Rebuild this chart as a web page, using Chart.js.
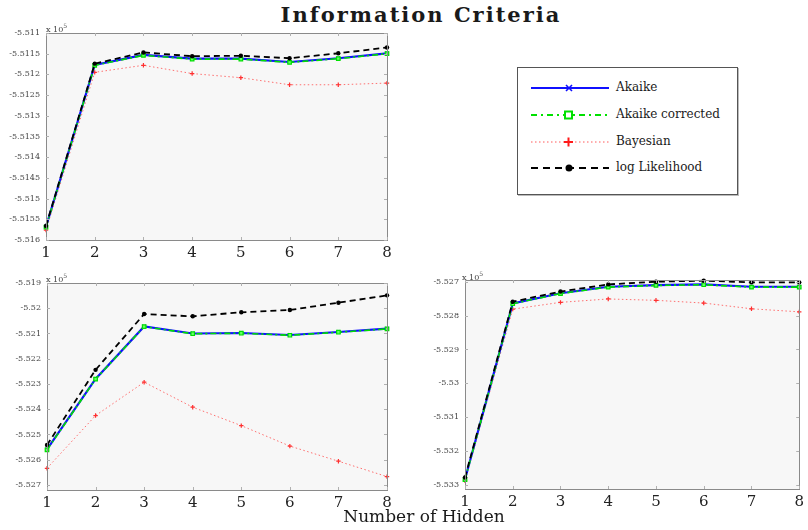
<!DOCTYPE html>
<html>
<head>
<meta charset="utf-8">
<script src="https://cdn.jsdelivr.net/npm/chart.js@4/dist/chart.umd.min.js"></script>
<style>
  html, body { margin: 0; padding: 0; background: #fff; }
  body { width: 808px; height: 530px; position: relative; overflow: hidden; font-family: "DejaVu Serif", "Liberation Serif", serif; color: #111; }
  .plot { position: absolute; }
  #title { position: absolute; left: 0; width: 842px; top: 2px; text-align: center; font-size: 21px; font-weight: bold; letter-spacing: 2px; color: #1a1a1a; }
  #xlabel { position: absolute; left: 0; width: 848px; top: 506px; text-align: center; font-size: 17px; color: #1a1a1a; }
  .exp { position: absolute; font-size: 8px; color: #444; font-family: "DejaVu Serif", serif; }
  .exp sup { font-size: 6px; vertical-align: 4px; }
  #legend { position: absolute; left: 517px; top: 67px; width: 219px; height: 126px; border: 1px solid #555; background: #fff; box-shadow: 1px 1px 0 #bbb; }
  .row { position: absolute; left: 0; height: 20px; width: 219px; }
  .row svg { position: absolute; left: 10px; top: 0; }
  .row span { position: absolute; left: 98px; top: 2px; font-size: 12px; white-space: nowrap; font-family: "DejaVu Serif", "Liberation Serif", serif; color: #1a1a1a; }
</style>
</head>
<body>
<div id="title">Information Criteria</div>

<canvas id="runA" class="plot" width="400" height="250" style="left:0;top:20px;width:400px;height:250px"></canvas>
<canvas id="runB" class="plot" width="400" height="255" style="left:0;top:270px;width:400px;height:255px"></canvas>
<canvas id="runC" class="plot" width="408" height="260" style="left:400px;top:265px;width:408px;height:260px"></canvas>

<div class="exp" style="left:46px;top:22px">x 10<sup>5</sup></div>
<div class="exp" style="left:46px;top:272px">x 10<sup>5</sup></div>
<div class="exp" style="left:462px;top:270px">x 10<sup>5</sup></div>

<div id="legend">
  <div class="row" style="top:10px">
    <svg width="84" height="20"><line x1="3" y1="10" x2="81" y2="10" stroke="#1010ff" stroke-width="2"/><path d="M38 7 L44 13 M44 7 L38 13" stroke="#1010ff" stroke-width="1.6"/></svg>
    <span>Akaike</span>
  </div>
  <div class="row" style="top:37px">
    <svg width="84" height="20"><line x1="3" y1="10" x2="81" y2="10" stroke="#00e000" stroke-width="2" stroke-dasharray="6,4,2,4"/><rect x="37" y="6.5" width="7" height="7" fill="#fff" stroke="#00e000" stroke-width="2"/></svg>
    <span>Akaike corrected</span>
  </div>
  <div class="row" style="top:64px">
    <svg width="84" height="20"><line x1="3" y1="10" x2="81" y2="10" stroke="#ff5a5a" stroke-width="1" stroke-dasharray="1.5,2.5"/><path d="M40.5 5.5 L40.5 14.5 M36 10 L45 10" stroke="#ff1a1a" stroke-width="2"/></svg>
    <span>Bayesian</span>
  </div>
  <div class="row" style="top:90px">
    <svg width="84" height="20"><line x1="3" y1="10" x2="81" y2="10" stroke="#000" stroke-width="2" stroke-dasharray="7,5"/><circle cx="41" cy="10" r="3.5" fill="#000"/></svg>
    <span>log Likelihood</span>
  </div>
</div>

<div id="xlabel">Number of Hidden</div>

<script>
// Number of hidden units on the horizontal axis
const hidden = ['1', '2', '3', '4', '5', '6', '7', '8'];

// Run A (values in units of 10^5)
const aicA  = [-5.51568, -5.51177, -5.51153, -5.51162, -5.51162, -5.51170, -5.51161, -5.51149];
const aiccA = [-5.51569, -5.51178, -5.51154, -5.51163, -5.51163, -5.51171, -5.51162, -5.51150];
const bicA  = [-5.51576, -5.51195, -5.51178, -5.51198, -5.51208, -5.51225, -5.51225, -5.51221];
const llA   = [-5.51566, -5.51174, -5.51147, -5.51156, -5.51155, -5.51161, -5.51149, -5.51135];
const ticksA = [-5.511, -5.5115, -5.512, -5.5125, -5.513, -5.5135, -5.514, -5.5145, -5.515, -5.5155, -5.516];
const rangeA = [-5.516, -5.511];

// Run B
const aicB  = [-5.52559, -5.52280, -5.52072, -5.52100, -5.52098, -5.52106, -5.52094, -5.52081];
const aiccB = [-5.52561, -5.52281, -5.52073, -5.52101, -5.52099, -5.52107, -5.52095, -5.52082];
const bicB  = [-5.52634, -5.52425, -5.52293, -5.52392, -5.52465, -5.52546, -5.52606, -5.52667];
const llB   = [-5.52542, -5.52244, -5.52023, -5.52032, -5.52016, -5.52007, -5.51978, -5.51949];
const ticksB = [-5.519, -5.52, -5.521, -5.522, -5.523, -5.524, -5.525, -5.526, -5.527];
const rangeB = [-5.5272, -5.519];

// Run C
const aicC  = [-5.53283, -5.52764, -5.52734, -5.52715, -5.52710, -5.52708, -5.52715, -5.52715];
const aiccC = [-5.53284, -5.52765, -5.52735, -5.52716, -5.52711, -5.52709, -5.52716, -5.52716];
const bicC  = [-5.53288, -5.52781, -5.52761, -5.52751, -5.52755, -5.52763, -5.52780, -5.52789];
const llC   = [-5.53278, -5.52759, -5.52729, -5.52708, -5.52700, -5.52697, -5.52702, -5.52702];
const ticksC = [-5.527, -5.528, -5.529, -5.53, -5.531, -5.532, -5.533];
const rangeC = [-5.53312, -5.52695];

const serif = '"DejaVu Serif", "Liberation Serif", serif';

// Light gray plot box with a frame and short inward tick marks
const boxPlugin = {
  id: 'box',
  beforeDraw(chart) {
    const { ctx, chartArea: a } = chart;
    ctx.save();
    ctx.fillStyle = '#f7f7f7';
    ctx.fillRect(a.left, a.top, a.right - a.left, a.bottom - a.top);
    ctx.restore();
  },
  afterDraw(chart) {
    const { ctx, chartArea: a, scales } = chart;
    ctx.save();
    ctx.strokeStyle = '#8a8a8a';
    ctx.lineWidth = 1;
    ctx.strokeRect(Math.round(a.left) + 0.5, Math.round(a.top) + 0.5,
                   Math.round(a.right - a.left), Math.round(a.bottom - a.top));
    ctx.strokeStyle = '#b0b0b0';
    ctx.beginPath();
    scales.x.ticks.forEach((t, i) => {
      const px = Math.round(scales.x.getPixelForTick(i)) + 0.5;
      ctx.moveTo(px, a.top); ctx.lineTo(px, a.top + 3);
      ctx.moveTo(px, a.bottom); ctx.lineTo(px, a.bottom - 3);
    });
    scales.y.ticks.forEach(t => {
      const py = Math.round(scales.y.getPixelForValue(t.value)) + 0.5;
      ctx.moveTo(a.left, py); ctx.lineTo(a.left + 3, py);
      ctx.moveTo(a.right, py); ctx.lineTo(a.right - 3, py);
    });
    ctx.stroke();
    ctx.restore();
  }
};

function makeChart(id, aic, aicc, bic, ll, ticks, range, lay) {
  return new Chart(document.getElementById(id), {
    type: 'line',
    data: {
      labels: hidden,
      datasets: [
        { label: 'Akaike', data: aic, order: 3, borderColor: '#1010ff', borderWidth: 2.2,
          pointStyle: 'crossRot', pointRadius: 2.5, pointBorderWidth: 1.2, pointBorderColor: '#1010ff',
          tension: 0, clip: false },
        { label: 'Akaike corrected', data: aicc, order: 2, borderColor: '#00e000', borderWidth: 1.6,
          borderDash: [6, 3, 2, 3], pointStyle: 'rect', pointRadius: 2.5, pointBorderWidth: 1.2,
          pointBorderColor: '#00e000', pointBackgroundColor: '#66ff66', tension: 0, clip: false },
        { label: 'Bayesian', data: bic, order: 4, borderColor: '#ff7070', borderWidth: 1,
          borderDash: [1.5, 2.5], pointStyle: 'cross', pointRadius: 2.2, pointBorderWidth: 1.2,
          pointBorderColor: '#ff3030', tension: 0, clip: false },
        { label: 'log Likelihood', data: ll, order: 1, borderColor: '#000', borderWidth: 1.8,
          borderDash: [6, 4], pointStyle: 'circle', pointRadius: 2.2, pointBorderWidth: 0,
          pointBackgroundColor: '#000', tension: 0, clip: false }
      ]
    },
    options: {
      responsive: false,
      animation: false,
      events: [],
      layout: { padding: { top: lay.top, right: lay.right, left: 0, bottom: 0 } },
      plugins: { legend: { display: false }, tooltip: { enabled: false } },
      scales: {
        x: {
          type: 'category', offset: false,
          grid: { display: false, drawTicks: false }, border: { display: false },
          afterFit: s => { s.height = lay.xh; },
          ticks: { autoSkip: false, maxRotation: 0, padding: 4, color: '#222',
                   font: { family: serif, size: 15 } }
        },
        y: {
          type: 'linear', min: range[0], max: range[1],
          grid: { display: false, drawTicks: false }, border: { display: false },
          afterBuildTicks: s => { s.ticks = ticks.map(v => ({ value: v })); },
          afterFit: s => { s.width = lay.yw; },
          ticks: { padding: 6, color: '#444', font: { family: serif, size: 8 },
                   callback: v => String(v) }
        }
      }
    },
    plugins: [boxPlugin]
  });
}

makeChart('runA', aicA, aiccA, bicA, llA, ticksA, rangeA, { top: 13, right: 13, yw: 46, xh: 30 });
makeChart('runB', aicB, aiccB, bicB, llB, ticksB, rangeB, { top: 13, right: 13, yw: 47, xh: 35 });
makeChart('runC', aicC, aiccC, bicC, llC, ticksC, rangeC, { top: 15, right: 2, yw: 65, xh: 36 });
</script>
</body>
</html>
